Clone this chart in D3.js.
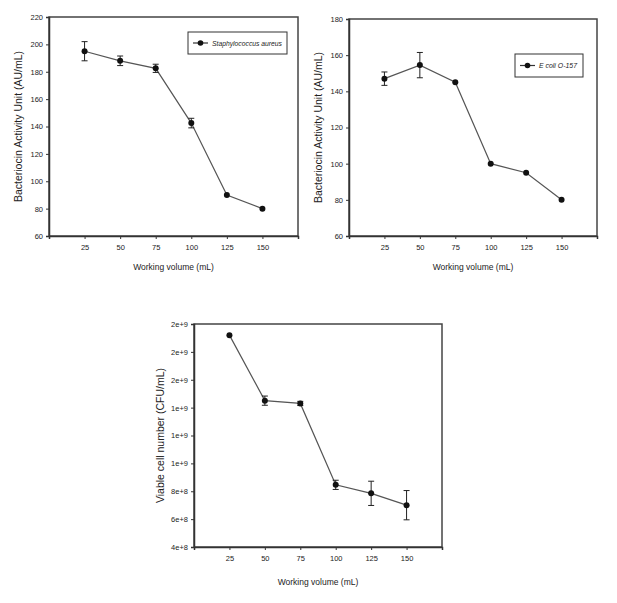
<!DOCTYPE html>
<html><head><meta charset="utf-8">
<script src="https://cdn.jsdelivr.net/npm/d3@7"></script>
<style>
body{margin:0;background:#fff;}
svg{display:block;font-family:"Liberation Sans",Arial,sans-serif;}
</style></head>
<body><svg id="c" width="617" height="603"></svg>
<script>
const volumes = [25, 50, 75, 100, 125, 150];
const xTicks = [25, 50, 75, 100, 125, 150];

const saurValues = [195, 188, 182.5, 142.5, 90, 80];
const saurErrors = [7, 3.5, 3, 3.5, 0, 0];
const saurTicks = [60, 80, 100, 120, 140, 160, 180, 200, 220];

const ecoliValues = [147, 154.5, 145, 100, 95, 80];
const ecoliErrors = [3.7, 7, 0, 0, 0, 0];
const ecoliTicks = [60, 80, 100, 120, 140, 160, 180];

const viableValues = [1.92e9, 1.45e9, 1.43e9, 8.46e8, 7.85e8, 7.0e8];
const viableErrors = [0, 0.33e8, 0.15e8, 0.33e8, 0.87e8, 1.05e8];
const viableTicks = [4e8, 6e8, 8e8, 1e9, 1.2e9, 1.4e9, 1.6e9, 1.8e9, 2e9];
const viableTickLabels = ["4e+8", "6e+8", "8e+8", "1e+9", "1e+9", "1e+9", "2e+9", "2e+9", "2e+9"];

const svg = d3.select("#c");

function panel(o) {
  const g = svg.append("g");
  const x = d3.scaleLinear().domain([0, 175]).range([o.left, o.right]);
  const y = d3.scaleLinear().domain([o.yTicks[0], o.yTicks[o.yTicks.length - 1]]).range([o.bottom, o.top]);

  g.append("rect").attr("x", o.left).attr("y", o.top)
    .attr("width", o.right - o.left).attr("height", o.bottom - o.top)
    .attr("fill", "none").attr("stroke", "#444").attr("stroke-width", 1.5);

  const xa = g.append("g").attr("transform", `translate(0,${o.bottom})`)
    .call(d3.axisBottom(x).tickValues(xTicks).tickSize(3).tickPadding(6).tickFormat(d3.format("d")));
  const ya = g.append("g").attr("transform", `translate(${o.left},0)`)
    .call(d3.axisLeft(y).tickValues(o.yTicks).tickSize(3).tickPadding(3)
      .tickFormat((d, i) => o.yLabels ? o.yLabels[i] : d));
  [xa, ya].forEach(a => {
    a.select(".domain").attr("stroke", "#333").attr("stroke-width", 1.5);
    a.selectAll(".tick line").attr("stroke", "#333");
    a.selectAll("text").attr("font-size", 7.5).attr("fill", "#222").attr("font-family", "'Liberation Sans Narrow','Liberation Sans',Arial,sans-serif");
  });

  g.append("text").attr("x", (o.left + o.right) / 2).attr("y", o.bottom + o.xTitleOff)
    .attr("text-anchor", "middle").attr("font-size", 8.5).attr("fill", "#222")
    .text("Working volume (mL)");
  g.append("text").attr("transform", `translate(${o.left - o.yTitleOff},${(o.top + o.bottom) / 2}) rotate(-90)`)
    .attr("text-anchor", "middle").attr("font-size", 10.5).attr("fill", "#222")
    .text(o.yTitle);

  const pts = volumes.map((v, i) => ({ x: v, y: o.values[i], e: o.errors[i] }));
  g.append("path").datum(pts)
    .attr("d", d3.line().x(d => x(d.x)).y(d => y(d.y)))
    .attr("fill", "none").attr("stroke", "#555").attr("stroke-width", 1.2);

  const eb = g.selectAll(".eb").data(pts.filter(d => d.e > 0)).enter().append("g");
  eb.append("line").attr("x1", d => x(d.x)).attr("x2", d => x(d.x))
    .attr("y1", d => y(d.y - d.e)).attr("y2", d => y(d.y + d.e)).attr("stroke", "#222").attr("stroke-width", 1);
  [-1, 1].forEach(s => {
    eb.append("line").attr("x1", d => x(d.x) - 3).attr("x2", d => x(d.x) + 3)
      .attr("y1", d => y(d.y + s * d.e)).attr("y2", d => y(d.y + s * d.e)).attr("stroke", "#222").attr("stroke-width", 1);
  });

  g.selectAll(".pt").data(pts).enter().append("circle")
    .attr("cx", d => x(d.x)).attr("cy", d => y(d.y)).attr("r", 3).attr("fill", "#111");

  if (o.legend) {
    const L = o.legend;
    g.append("rect").attr("x", L.x).attr("y", L.y).attr("width", L.w).attr("height", L.h)
      .attr("fill", "#fff").attr("stroke", "#333").attr("stroke-width", 1);
    const cy = L.y + L.h / 2;
    g.append("line").attr("x1", L.x + 5).attr("x2", L.x + 20).attr("y1", cy).attr("y2", cy).attr("stroke", "#333").attr("stroke-width", 1.2);
    g.append("circle").attr("cx", L.x + 12.5).attr("cy", cy).attr("r", 2.8).attr("fill", "#111");
    g.append("text").attr("x", L.x + 24).attr("y", cy + 2.8).attr("font-size", 7.5).attr("font-style", "italic")
      .attr("fill", "#222").attr("textLength", L.tl).attr("lengthAdjust", "spacingAndGlyphs").text(L.text);
  }
}

panel({ left: 49, right: 298, top: 17, bottom: 236, yTicks: saurTicks, values: saurValues, errors: saurErrors,
  yTitle: "Bacteriocin Activity Unit (AU/mL)", xTitleOff: 34, yTitleOff: 27,
  legend: { x: 188, y: 32, w: 99, h: 22, text: "Staphylococcus aureus", tl: 70 } });
panel({ left: 349, right: 597, top: 19, bottom: 236, yTicks: ecoliTicks, values: ecoliValues, errors: ecoliErrors,
  yTitle: "Bacteriocin Activity Unit (AU/mL)", xTitleOff: 34, yTitleOff: 27,
  legend: { x: 515, y: 54, w: 68, h: 23, text: "E coli O-157", tl: 38 } });
panel({ left: 194, right: 442, top: 324, bottom: 547, yTicks: viableTicks, yLabels: viableTickLabels,
  values: viableValues, errors: viableErrors, yTitle: "Viable cell number (CFU/mL)", xTitleOff: 38, yTitleOff: 30 });
</script></body></html>
